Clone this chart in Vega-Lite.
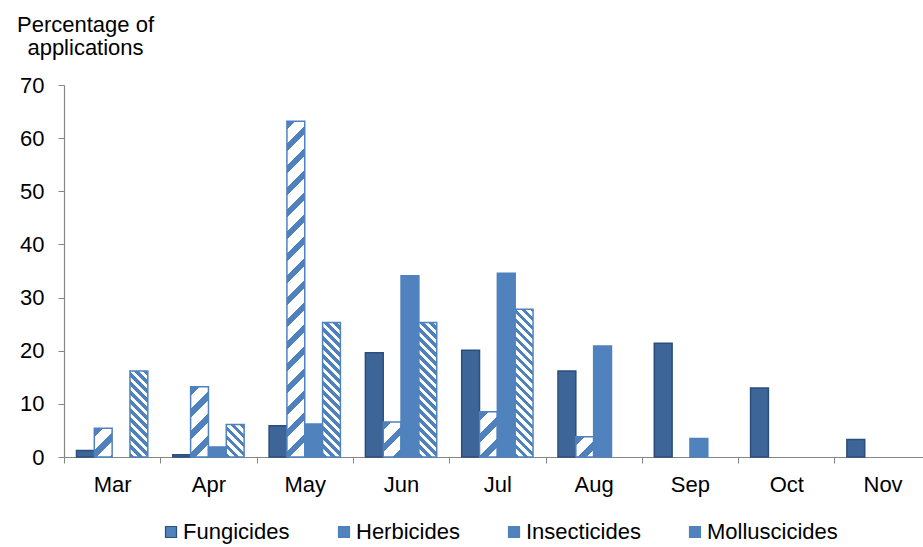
{
  "$schema": "https://vega.github.io/schema/vega-lite/v6.json",
  "width": 859,
  "height": 372,
  "autosize": {"type": "none"},
  "padding": {"left": 64, "top": 85, "right": 0, "bottom": 90},
  "background": "#ffffff",
  "params": [
    {
      "name": "hatchWide",
      "value": [
        {"offset": 0, "color": "#4F81BD"}, {"offset": 0.02, "color": "#4F81BD"}, {"offset": 0.02, "color": "#ffffff"}, {"offset": 0.05, "color": "#ffffff"},
        {"offset": 0.05, "color": "#4F81BD"}, {"offset": 0.07, "color": "#4F81BD"}, {"offset": 0.07, "color": "#ffffff"}, {"offset": 0.10, "color": "#ffffff"},
        {"offset": 0.10, "color": "#4F81BD"}, {"offset": 0.12, "color": "#4F81BD"}, {"offset": 0.12, "color": "#ffffff"}, {"offset": 0.15, "color": "#ffffff"},
        {"offset": 0.15, "color": "#4F81BD"}, {"offset": 0.17, "color": "#4F81BD"}, {"offset": 0.17, "color": "#ffffff"}, {"offset": 0.20, "color": "#ffffff"},
        {"offset": 0.20, "color": "#4F81BD"}, {"offset": 0.22, "color": "#4F81BD"}, {"offset": 0.22, "color": "#ffffff"}, {"offset": 0.25, "color": "#ffffff"},
        {"offset": 0.25, "color": "#4F81BD"}, {"offset": 0.27, "color": "#4F81BD"}, {"offset": 0.27, "color": "#ffffff"}, {"offset": 0.30, "color": "#ffffff"},
        {"offset": 0.30, "color": "#4F81BD"}, {"offset": 0.32, "color": "#4F81BD"}, {"offset": 0.32, "color": "#ffffff"}, {"offset": 0.35, "color": "#ffffff"},
        {"offset": 0.35, "color": "#4F81BD"}, {"offset": 0.37, "color": "#4F81BD"}, {"offset": 0.37, "color": "#ffffff"}, {"offset": 0.40, "color": "#ffffff"},
        {"offset": 0.40, "color": "#4F81BD"}, {"offset": 0.42, "color": "#4F81BD"}, {"offset": 0.42, "color": "#ffffff"}, {"offset": 0.45, "color": "#ffffff"},
        {"offset": 0.45, "color": "#4F81BD"}, {"offset": 0.47, "color": "#4F81BD"}, {"offset": 0.47, "color": "#ffffff"}, {"offset": 0.50, "color": "#ffffff"},
        {"offset": 0.50, "color": "#4F81BD"}, {"offset": 0.52, "color": "#4F81BD"}, {"offset": 0.52, "color": "#ffffff"}, {"offset": 0.55, "color": "#ffffff"},
        {"offset": 0.55, "color": "#4F81BD"}, {"offset": 0.57, "color": "#4F81BD"}, {"offset": 0.57, "color": "#ffffff"}, {"offset": 0.60, "color": "#ffffff"},
        {"offset": 0.60, "color": "#4F81BD"}, {"offset": 0.62, "color": "#4F81BD"}, {"offset": 0.62, "color": "#ffffff"}, {"offset": 0.65, "color": "#ffffff"},
        {"offset": 0.65, "color": "#4F81BD"}, {"offset": 0.67, "color": "#4F81BD"}, {"offset": 0.67, "color": "#ffffff"}, {"offset": 0.70, "color": "#ffffff"},
        {"offset": 0.70, "color": "#4F81BD"}, {"offset": 0.72, "color": "#4F81BD"}, {"offset": 0.72, "color": "#ffffff"}, {"offset": 0.75, "color": "#ffffff"},
        {"offset": 0.75, "color": "#4F81BD"}, {"offset": 0.77, "color": "#4F81BD"}, {"offset": 0.77, "color": "#ffffff"}, {"offset": 0.80, "color": "#ffffff"},
        {"offset": 0.80, "color": "#4F81BD"}, {"offset": 0.82, "color": "#4F81BD"}, {"offset": 0.82, "color": "#ffffff"}, {"offset": 0.85, "color": "#ffffff"}
      ]
    },
    {
      "name": "hatchNarrow",
      "value": [
        {"offset": 0, "color": "#4F81BD"}, {"offset": 0.025, "color": "#4F81BD"}, {"offset": 0.025, "color": "#ffffff"}, {"offset": 0.05, "color": "#ffffff"},
        {"offset": 0.05, "color": "#4F81BD"}, {"offset": 0.075, "color": "#4F81BD"}, {"offset": 0.075, "color": "#ffffff"}, {"offset": 0.10, "color": "#ffffff"},
        {"offset": 0.10, "color": "#4F81BD"}, {"offset": 0.125, "color": "#4F81BD"}, {"offset": 0.125, "color": "#ffffff"}, {"offset": 0.15, "color": "#ffffff"},
        {"offset": 0.15, "color": "#4F81BD"}, {"offset": 0.175, "color": "#4F81BD"}, {"offset": 0.175, "color": "#ffffff"}, {"offset": 0.20, "color": "#ffffff"},
        {"offset": 0.20, "color": "#4F81BD"}, {"offset": 0.225, "color": "#4F81BD"}, {"offset": 0.225, "color": "#ffffff"}, {"offset": 0.25, "color": "#ffffff"},
        {"offset": 0.25, "color": "#4F81BD"}, {"offset": 0.275, "color": "#4F81BD"}, {"offset": 0.275, "color": "#ffffff"}, {"offset": 0.30, "color": "#ffffff"},
        {"offset": 0.30, "color": "#4F81BD"}, {"offset": 0.325, "color": "#4F81BD"}, {"offset": 0.325, "color": "#ffffff"}, {"offset": 0.35, "color": "#ffffff"},
        {"offset": 0.35, "color": "#4F81BD"}, {"offset": 0.375, "color": "#4F81BD"}, {"offset": 0.375, "color": "#ffffff"}, {"offset": 0.40, "color": "#ffffff"},
        {"offset": 0.40, "color": "#4F81BD"}, {"offset": 0.425, "color": "#4F81BD"}, {"offset": 0.425, "color": "#ffffff"}, {"offset": 0.45, "color": "#ffffff"},
        {"offset": 0.45, "color": "#4F81BD"}, {"offset": 0.475, "color": "#4F81BD"}, {"offset": 0.475, "color": "#ffffff"}, {"offset": 0.50, "color": "#ffffff"},
        {"offset": 0.50, "color": "#4F81BD"}, {"offset": 0.525, "color": "#4F81BD"}, {"offset": 0.525, "color": "#ffffff"}, {"offset": 0.55, "color": "#ffffff"},
        {"offset": 0.55, "color": "#4F81BD"}, {"offset": 0.575, "color": "#4F81BD"}, {"offset": 0.575, "color": "#ffffff"}, {"offset": 0.60, "color": "#ffffff"},
        {"offset": 0.60, "color": "#4F81BD"}, {"offset": 0.625, "color": "#4F81BD"}, {"offset": 0.625, "color": "#ffffff"}, {"offset": 0.65, "color": "#ffffff"},
        {"offset": 0.65, "color": "#4F81BD"}, {"offset": 0.675, "color": "#4F81BD"}, {"offset": 0.675, "color": "#ffffff"}, {"offset": 0.70, "color": "#ffffff"},
        {"offset": 0.70, "color": "#4F81BD"}, {"offset": 0.725, "color": "#4F81BD"}, {"offset": 0.725, "color": "#ffffff"}, {"offset": 0.75, "color": "#ffffff"},
        {"offset": 0.75, "color": "#4F81BD"}, {"offset": 0.775, "color": "#4F81BD"}, {"offset": 0.775, "color": "#ffffff"}, {"offset": 0.80, "color": "#ffffff"},
        {"offset": 0.80, "color": "#4F81BD"}, {"offset": 0.825, "color": "#4F81BD"}, {"offset": 0.825, "color": "#ffffff"}, {"offset": 0.85, "color": "#ffffff"},
        {"offset": 0.85, "color": "#4F81BD"}, {"offset": 0.875, "color": "#4F81BD"}, {"offset": 0.875, "color": "#ffffff"}, {"offset": 0.90, "color": "#ffffff"},
        {"offset": 0.90, "color": "#4F81BD"}, {"offset": 0.925, "color": "#4F81BD"}, {"offset": 0.925, "color": "#ffffff"}, {"offset": 0.95, "color": "#ffffff"},
        {"offset": 0.95, "color": "#4F81BD"}, {"offset": 0.975, "color": "#4F81BD"}, {"offset": 0.975, "color": "#ffffff"}, {"offset": 1, "color": "#ffffff"}
      ]
    },
    {
      "name": "keyWide",
      "value": [
        {"offset": 0, "color": "#ffffff"}, {"offset": 0.5, "color": "#ffffff"}, {"offset": 0.5, "color": "#4F81BD"}, {"offset": 1, "color": "#4F81BD"}
      ]
    },
    {
      "name": "keyNarrow",
      "value": [
        {"offset": 0, "color": "#4F81BD"}, {"offset": 0.38, "color": "#4F81BD"}, {"offset": 0.38, "color": "#ffffff"}, {"offset": 0.62, "color": "#ffffff"}, {"offset": 0.62, "color": "#4F81BD"}, {"offset": 1, "color": "#4F81BD"}
      ]
    }
  ],
  "data": {
    "values": [
      {"month": "Mar", "type": "Fungicides", "pct": 1.2},
      {"month": "Apr", "type": "Fungicides", "pct": 0.4},
      {"month": "May", "type": "Fungicides", "pct": 5.9},
      {"month": "Jun", "type": "Fungicides", "pct": 19.6},
      {"month": "Jul", "type": "Fungicides", "pct": 20.1},
      {"month": "Aug", "type": "Fungicides", "pct": 16.2},
      {"month": "Sep", "type": "Fungicides", "pct": 21.4},
      {"month": "Oct", "type": "Fungicides", "pct": 13.0},
      {"month": "Nov", "type": "Fungicides", "pct": 3.3},
      {"month": "Mar", "type": "Herbicides", "pct": 5.4},
      {"month": "Apr", "type": "Herbicides", "pct": 13.2},
      {"month": "May", "type": "Herbicides", "pct": 63.2},
      {"month": "Jun", "type": "Herbicides", "pct": 6.6},
      {"month": "Jul", "type": "Herbicides", "pct": 8.5},
      {"month": "Aug", "type": "Herbicides", "pct": 3.8},
      {"month": "Apr", "type": "Insecticides", "pct": 1.9},
      {"month": "May", "type": "Insecticides", "pct": 6.2},
      {"month": "Jun", "type": "Insecticides", "pct": 34.1},
      {"month": "Jul", "type": "Insecticides", "pct": 34.6},
      {"month": "Aug", "type": "Insecticides", "pct": 20.9},
      {"month": "Sep", "type": "Insecticides", "pct": 3.5},
      {"month": "Mar", "type": "Molluscicides", "pct": 16.2},
      {"month": "Apr", "type": "Molluscicides", "pct": 6.1},
      {"month": "May", "type": "Molluscicides", "pct": 25.3},
      {"month": "Jun", "type": "Molluscicides", "pct": 25.3},
      {"month": "Jul", "type": "Molluscicides", "pct": 27.8}
    ]
  },
  "mark": {"type": "bar", "strokeWidth": 1.5},
  "encoding": {
    "x": {
      "field": "month",
      "type": "nominal",
      "sort": ["Mar", "Apr", "May", "Jun", "Jul", "Aug", "Sep", "Oct", "Nov"],
      "scale": {"range": [0, 866.7], "paddingInner": 0, "paddingOuter": 0},
      "axis": {
        "title": null,
        "labelAngle": 0,
        "labelFontSize": 22,
        "labelColor": "#000000",
        "labelPadding": 11,
        "tickBand": "extent",
        "tickSize": 6,
        "tickColor": "#868686",
        "domainColor": "#868686",
        "domainWidth": 1.2
      }
    },
    "xOffset": {
      "field": "type",
      "type": "nominal",
      "scale": {
        "domain": ["Fungicides", "Herbicides", "Insecticides", "Molluscicides"],
        "paddingInner": 0,
        "paddingOuter": 0.7
      }
    },
    "y": {
      "field": "pct",
      "type": "quantitative",
      "scale": {"domain": [0, 70], "nice": false},
      "axis": {
        "values": [0, 10, 20, 30, 40, 50, 60, 70],
        "grid": false,
        "title": ["Percentage of", "applications"],
        "titleAngle": 0,
        "titleAlign": "center",
        "titleBaseline": "alphabetic",
        "titleX": 21,
        "titleY": -54,
        "titleFontSize": 22,
        "titleFontWeight": "normal",
        "titleLineHeight": 23,
        "titleColor": "#000000",
        "labelFontSize": 22,
        "labelColor": "#000000",
        "labelPadding": 14,
        "tickSize": 6,
        "tickColor": "#868686",
        "domainColor": "#868686",
        "domainWidth": 1.2
      }
    },
    "fill": {
      "condition": [
        {"test": "datum.type === 'Fungicides'", "value": "#3D6598"},
        {
          "test": "datum.type === 'Herbicides'",
          "value": {"expr": "{gradient: 'linear', x1: 0, y1: 0, x2: 440 * bandwidth('xOffset') / (pow(bandwidth('xOffset'), 2) + pow(scale('y', 0) - scale('y', datum.pct), 2)), y2: 440 * (scale('y', 0) - scale('y', datum.pct)) / (pow(bandwidth('xOffset'), 2) + pow(scale('y', 0) - scale('y', datum.pct), 2)), stops: hatchWide}"}
        },
        {
          "test": "datum.type === 'Molluscicides'",
          "value": {"expr": "{gradient: 'linear', x1: 0, y1: 1, x2: 180 * bandwidth('xOffset') / (pow(bandwidth('xOffset'), 2) + pow(scale('y', 0) - scale('y', datum.pct), 2)), y2: 1 - 180 * (scale('y', 0) - scale('y', datum.pct)) / (pow(bandwidth('xOffset'), 2) + pow(scale('y', 0) - scale('y', datum.pct), 2)), stops: hatchNarrow}"}
        }
      ],
      "value": "#5082BE"
    },
    "stroke": {
      "field": "type",
      "type": "nominal",
      "scale": {
        "domain": ["Fungicides", "Herbicides", "Insecticides", "Molluscicides"],
        "range": ["#2B4E7D", "#4F81BD", "#4F81BD", "#4F81BD"]
      },
      "legend": {
        "orient": "none",
        "legendX": 96,
        "legendY": 436,
        "direction": "horizontal",
        "columns": 4,
        "title": null,
        "padding": 0,
        "symbolType": "square",
        "symbolSize": 121,
        "symbolStrokeWidth": 1.2,
        "labelFontSize": 22,
        "labelColor": "#000000",
        "labelOffset": 1,
        "columnPadding": 43,
        "encode": {
          "symbols": {
            "update": {
              "fill": {
                "value": {
                  "expr": "datum.value === 'Herbicides' ? {gradient: 'linear', x1: 0, y1: 0, x2: 1, y2: 1, stops: keyWide} : datum.value === 'Molluscicides' ? {gradient: 'linear', x1: 0, y1: 1, x2: 1, y2: 0, stops: keyNarrow} : datum.value === 'Insecticides' ? '#4F81BD' : '#3D6598'"
                }
              }
            }
          }
        }
      }
    }
  },
  "config": {
    "view": {"stroke": null},
    "font": "Liberation Sans"
  }
}
